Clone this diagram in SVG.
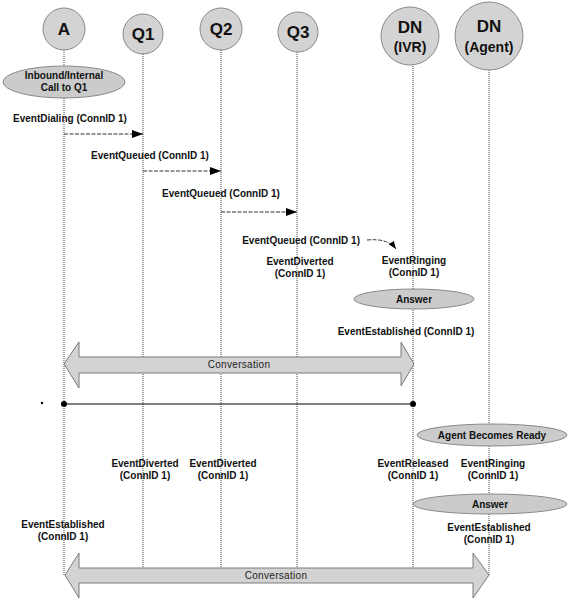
<svg xmlns="http://www.w3.org/2000/svg" width="568" height="600" viewBox="0 0 568 600">
<style>
.bg{fill:#ffffff}
.node{fill:#d3d3d3;stroke:#8a8a8a;stroke-width:1}
.ell{fill:#cbcbcb;stroke:#8a8a8a;stroke-width:1}
.life{stroke:#444;stroke-width:1;stroke-dasharray:1,1;fill:none}
.msg{stroke:#333;stroke-width:1;stroke-dasharray:4,1.5;fill:none}
.big{fill:#d3d3d3;stroke:#7a7a7a;stroke-width:1}
.lbl{font-family:"Liberation Sans",Arial,sans-serif;font-size:10px;font-weight:bold;fill:#111;text-anchor:middle}
.nlbl{font-family:"Liberation Sans",Arial,sans-serif;font-weight:bold;fill:#111;text-anchor:middle}
.conv{font-family:"Liberation Sans",Arial,sans-serif;font-size:10px;fill:#222;text-anchor:middle;letter-spacing:0.3px}
</style>
<defs>
<marker id="ah" markerUnits="userSpaceOnUse" markerWidth="12" markerHeight="9" refX="11" refY="4" orient="auto">
<path d="M0,0 L11,4 L0,8 z" fill="#000"/>
</marker>
<marker id="ahs" markerUnits="userSpaceOnUse" markerWidth="9" markerHeight="7" refX="8" refY="3" orient="auto">
<path d="M0,0 L8,3 L0,6 z" fill="#000"/>
</marker>
</defs>
<rect class="bg" x="0" y="0" width="568" height="600"/>

<g id="lifelines">
<line class="life" x1="64" y1="50" x2="64" y2="575"/>
<line class="life" x1="143" y1="54" x2="143" y2="575"/>
<line class="life" x1="221" y1="50" x2="221" y2="575"/>
<line class="life" x1="297" y1="52" x2="297" y2="575"/>
<line class="life" x1="413" y1="64" x2="413" y2="575"/>
<line class="life" x1="489" y1="70" x2="489" y2="575"/>
</g>

<g id="node-A">
<circle class="node" cx="64" cy="29" r="21"/>
<text class="nlbl" x="64" y="35" font-size="17">A</text>
</g>
<g id="node-Q1">
<circle class="node" cx="143" cy="34" r="20"/>
<text class="nlbl" x="143" y="40" font-size="17">Q1</text>
</g>
<g id="node-Q2">
<circle class="node" cx="221" cy="29" r="21"/>
<text class="nlbl" x="221" y="35" font-size="17">Q2</text>
</g>
<g id="node-Q3">
<circle class="node" cx="298" cy="32" r="20"/>
<text class="nlbl" x="298" y="38" font-size="17">Q3</text>
</g>
<g id="node-DN-IVR">
<circle class="node" cx="410" cy="36" r="29"/>
<text class="nlbl" x="410" y="33" font-size="17">DN</text>
<text class="nlbl" x="410" y="52" font-size="14">(IVR)</text>
</g>
<g id="node-DN-Agent">
<circle class="node" cx="489" cy="36" r="34"/>
<text class="nlbl" x="489" y="32" font-size="17">DN</text>
<text class="nlbl" x="489" y="52" font-size="14">(Agent)</text>
</g>

<g id="note-inbound">
<ellipse class="ell" cx="64" cy="82" rx="61" ry="16"/>
<text class="lbl" x="64" y="79">Inbound/Internal</text>
<text class="lbl" x="64" y="91">Call to Q1</text>
</g>
<g id="note-answer-ivr">
<ellipse class="ell" cx="414" cy="299" rx="60" ry="10"/>
<text class="lbl" x="414" y="303">Answer</text>
</g>
<g id="note-agent-ready">
<ellipse class="ell" cx="492" cy="435" rx="75" ry="11"/>
<text class="lbl" x="492" y="439">Agent Becomes Ready</text>
</g>
<g id="note-answer-agent">
<ellipse class="ell" cx="490" cy="504" rx="77" ry="10"/>
<text class="lbl" x="490" y="508">Answer</text>
</g>

<g id="connectors">
<line class="msg" x1="64" y1="134" x2="143" y2="134" marker-end="url(#ah)"/>
<line class="msg" x1="143" y1="171" x2="221" y2="171" marker-end="url(#ah)"/>
<line class="msg" x1="221" y1="212" x2="297" y2="212" marker-end="url(#ah)"/>
<path class="msg" d="M367,240 Q388,238 396,249" marker-end="url(#ahs)"/>
<path class="big" d="M64,364 L79,342 L79,357 L401,357 L401,342 L414,364 L401,386 L401,373 L79,373 L79,388 Z"/>
<line x1="64" y1="404" x2="413" y2="404" stroke="#000" stroke-width="1"/>
<circle cx="64" cy="404" r="3" fill="#000"/>
<circle cx="413" cy="404" r="3" fill="#000"/>
<circle cx="42" cy="403" r="1.2" fill="#000"/>
<path class="big" d="M65,575 L79,553 L79,568 L473,568 L473,553 L489,575 L473,598 L473,583 L79,583 L79,598 Z"/>
</g>

<g id="labels">
<text class="lbl" x="70" y="122">EventDialing (ConnID 1)</text>
<text class="lbl" x="150" y="159">EventQueued (ConnID 1)</text>
<text class="lbl" x="221" y="197">EventQueued (ConnID 1)</text>
<text class="lbl" x="360" y="244" style="text-anchor:end">EventQueued (ConnID 1)</text>
<text class="lbl" x="300" y="265">EventDiverted</text>
<text class="lbl" x="300" y="277">(ConnID 1)</text>
<text class="lbl" x="414" y="264">EventRinging</text>
<text class="lbl" x="414" y="276">(ConnID 1)</text>
<text class="lbl" x="406" y="335">EventEstablished (ConnID 1)</text>
<text class="conv" x="239" y="368">Conversation</text>
<text class="lbl" x="145" y="467">EventDiverted</text>
<text class="lbl" x="145" y="479">(ConnID 1)</text>
<text class="lbl" x="223" y="467">EventDiverted</text>
<text class="lbl" x="223" y="479">(ConnID 1)</text>
<text class="lbl" x="413" y="467">EventReleased</text>
<text class="lbl" x="413" y="479">(ConnID 1)</text>
<text class="lbl" x="493" y="467">EventRinging</text>
<text class="lbl" x="493" y="479">(ConnID 1)</text>
<text class="lbl" x="63" y="528">EventEstablished</text>
<text class="lbl" x="63" y="540">(ConnID 1)</text>
<text class="lbl" x="489" y="531">EventEstablished</text>
<text class="lbl" x="489" y="543">(ConnID 1)</text>
<text class="conv" x="276" y="579">Conversation</text>
</g>
</svg>
